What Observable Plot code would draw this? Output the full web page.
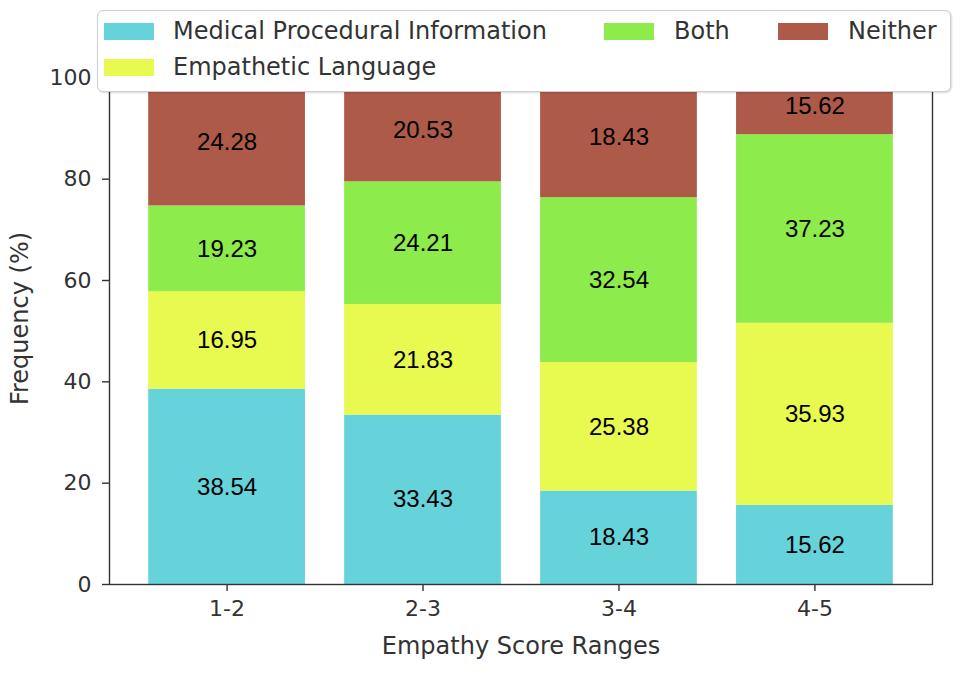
<!DOCTYPE html>
<html>
<head>
<meta charset="utf-8">
<script src="https://cdn.jsdelivr.net/npm/d3@7"></script>
<script src="https://cdn.jsdelivr.net/npm/@observablehq/plot@0.6"></script>
<style>
  html, body { margin: 0; padding: 0; background: #fff; }
  #wrap { position: relative; width: 964px; height: 680px; overflow: hidden; }
  #legend {
    position: absolute; left: 97px; top: 10px; width: 852px; height: 80px;
    background: #fff; border: 1.5px solid #cfcfcf; border-radius: 6px;
    box-shadow: 1px 1px 2px rgba(0,0,0,0.15);
    font-family: "DejaVu Sans", sans-serif; font-size: 24px; color: #333;
  }
  .sw { position: absolute; width: 50px; height: 17px; }
  .lt { position: absolute; line-height: 24px; white-space: nowrap; }
</style>
</head>
<body>
<div id="wrap"></div>
<script>
const categories = ["1-2", "2-3", "3-4", "4-5"];
const series = ["Medical Procedural Information", "Empathetic Language", "Both", "Neither"];
const colors = ["#66d3db", "#e8f950", "#8deb4c", "#ae5a49"];

// segment heights
const medical    = [38.54, 33.43, 18.43, 15.62];
const empathetic = [19.23, 21.83, 25.38, 35.93];
const both       = [16.95, 24.21, 32.54, 37.23];
const neither    = [25.28, 20.53, 23.65, 11.22];

// numbers printed on the bars
const medicalLabels    = ["38.54", "33.43", "18.43", "15.62"];
const empatheticLabels = ["16.95", "21.83", "25.38", "35.93"];
const bothLabels       = ["19.23", "24.21", "32.54", "37.23"];
const neitherLabels    = ["24.28", "20.53", "18.43", "15.62"];

const yTicks = [0, 20, 40, 60, 80, 100];

const values = [medical, empathetic, both, neither];
const labels = [medicalLabels, empatheticLabels, bothLabels, neitherLabels];

const rows = [];
categories.forEach((cat, i) => {
  series.forEach((s, j) => {
    rows.push({cat, series: s, value: values[j][i], label: labels[j][i]});
  });
});

const chart = Plot.plot({
  width: 964,
  height: 680,
  marginLeft: 109,
  marginRight: 32,
  marginTop: 52,
  marginBottom: 96,
  style: {fontFamily: "DejaVu Sans, sans-serif", fontSize: "22px", color: "#333", background: "#fff"},
  x: {domain: categories, paddingInner: 0.2, paddingOuter: 0.2, round: false, label: null},
  y: {domain: [0, 105], label: null},
  color: {domain: series, range: colors},
  marks: [
    Plot.barY(rows, {x: "cat", y: "value", fill: "series", order: null}),
    Plot.text(rows, Plot.stackY({x: "cat", y: "value", text: "label", z: "series",
      fill: "black", fontSize: 24, fontFamily: "Liberation Sans, Arial, sans-serif"})),
    Plot.frame({stroke: "#333", strokeWidth: 1.4}),
    Plot.axisY({ticks: yTicks, tickSize: 7, tickPadding: 11, fontSize: 22, label: null, stroke: "#333", strokeWidth: 1.4}),
    Plot.axisX({tickSize: 7, tickPadding: 9, fontSize: 22, label: null, stroke: "#333", strokeWidth: 1.4}),
    Plot.text(["Empathy Score Ranges"], {frameAnchor: "bottom", dy: 62, lineAnchor: "middle", textAnchor: "middle", fontSize: 24, fill: "#333"}),
    Plot.text(["Frequency (%)"], {frameAnchor: "left", dx: -89, rotate: -90, lineAnchor: "middle", textAnchor: "middle", fontSize: 24, fill: "#333"})
  ]
});

const wrap = document.getElementById("wrap");
wrap.appendChild(chart);

// legend (matplotlib style, 3 columns, column-major)
const legend = document.createElement("div");
legend.id = "legend";
const slots = [
  {sx: 6, tx: 75, y: 12},    // Medical Procedural Information
  {sx: 6, tx: 75, y: 48},    // Empathetic Language
  {sx: 506, tx: 576, y: 12}, // Both
  {sx: 680, tx: 750, y: 12}  // Neither
];
series.forEach((s, j) => {
  const sw = document.createElement("div");
  sw.className = "sw";
  sw.style.left = slots[j].sx + "px";
  sw.style.top = slots[j].y + "px";
  sw.style.background = colors[j];
  legend.appendChild(sw);
  const t = document.createElement("div");
  t.className = "lt";
  t.style.left = slots[j].tx + "px";
  t.style.top = (slots[j].y - 4) + "px";
  t.textContent = s;
  legend.appendChild(t);
});
wrap.appendChild(legend);
</script>
</body>
</html>
